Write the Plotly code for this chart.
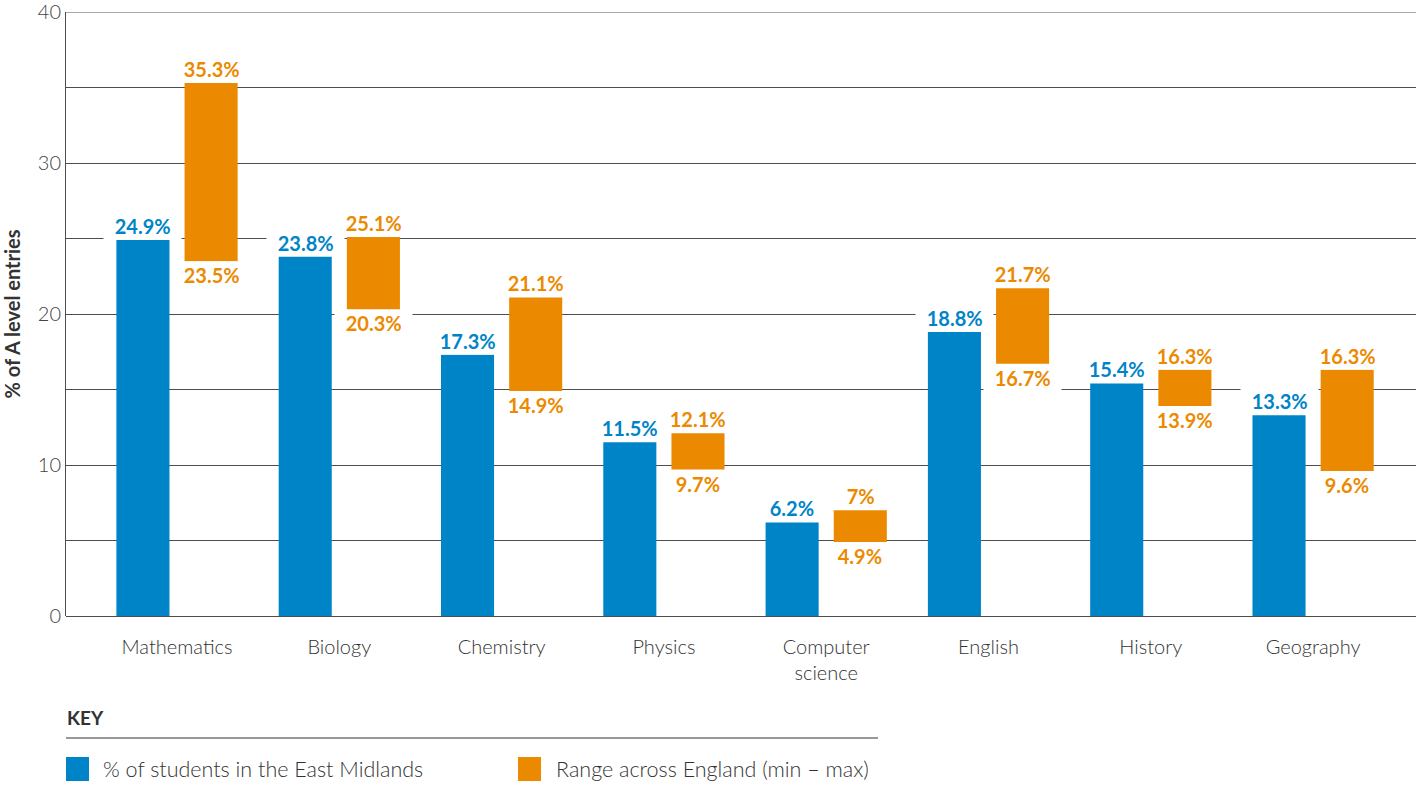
import plotly.graph_objects as go

subjects = ["Mathematics", "Biology", "Chemistry", "Physics", "Computer<br>science", "English", "History", "Geography"]
east_midlands = [24.9, 23.8, 17.3, 11.5, 6.2, 18.8, 15.4, 13.3]
england_min = [23.5, 20.3, 14.9, 9.7, 4.9, 16.7, 13.9, 9.6]
england_max = [35.3, 25.1, 21.1, 12.1, 7.0, 21.7, 16.3, 16.3]
y_ticks = [0, 10, 20, 30, 40]

BLUE = "#0084C8"
ORANGE = "#EB8A00"
FONT = "Lato"

def fmt(v):
    s = f"{v:.1f}"
    if s.endswith(".0"):
        s = s[:-2]
    return "&nbsp;&nbsp;" + s + "%&nbsp;&nbsp;"

idx = list(range(len(subjects)))
off = 0.21
w = 0.327

fig = go.Figure()
fig.add_trace(go.Bar(
    x=[i - off for i in idx], y=east_midlands, width=w,
    marker=dict(color=BLUE, line=dict(width=0)), showlegend=False, hoverinfo="skip"))
fig.add_trace(go.Bar(
    x=[i + off for i in idx], y=[mx - mn for mx, mn in zip(england_max, england_min)],
    base=england_min, width=w,
    marker=dict(color=ORANGE, line=dict(width=0)), showlegend=False, hoverinfo="skip"))

ann = []
lab_font = dict(family=FONT, size=20, weight=700)
for i in idx:
    ann.append(dict(x=i - off, y=east_midlands[i], xref="x", yref="y", text=fmt(east_midlands[i]),
                    showarrow=False, yanchor="bottom", xanchor="center", yshift=0,
                    font=dict(color=BLUE, **lab_font), bgcolor="white", borderpad=1))
    ann.append(dict(x=i + off, y=england_max[i], xref="x", yref="y", text=fmt(england_max[i]),
                    showarrow=False, yanchor="bottom", xanchor="center", yshift=0,
                    font=dict(color=ORANGE, **lab_font), bgcolor="white", borderpad=1))
    ann.append(dict(x=i + off, y=england_min[i], xref="x", yref="y", text=fmt(england_min[i]),
                    showarrow=False, yanchor="top", xanchor="center", yshift=0,
                    font=dict(color=ORANGE, **lab_font), bgcolor="white", borderpad=1))

# Key (positions given in screen pixels, converted to plot-area paper coordinates)
PL, PR, PT, PB = 66, 1416, 12, 616
def px(xp):
    return (xp - PL) / (PR - PL)
def py(yp):
    return (PB - yp) / (PB - PT)

ann.append(dict(x=px(65), y=py(717), xref="paper", yref="paper", text="KEY", showarrow=False,
                xanchor="left", yanchor="middle", font=dict(family=FONT, size=19, weight=700, color="#333333")))
ann.append(dict(x=px(101), y=py(769), xref="paper", yref="paper", text="% of students in the East Midlands",
                showarrow=False, xanchor="left", yanchor="middle",
                font=dict(family=FONT, size=21.5, weight=300, color="#333333")))
ann.append(dict(x=px(554), y=py(769), xref="paper", yref="paper", text="Range across England (min – max)",
                showarrow=False, xanchor="left", yanchor="middle",
                font=dict(family=FONT, size=21.5, weight=300, color="#333333")))

shapes = [
    dict(type="line", xref="paper", yref="y", x0=0, x1=1, y0=y_ticks[-1], y1=y_ticks[-1],
         line=dict(color="#555555", width=1), layer="below"),
    dict(type="line", xref="paper", yref="paper", x0=px(66), x1=px(878), y0=py(738), y1=py(738),
         line=dict(color="#333333", width=1.2)),
    dict(type="rect", xref="paper", yref="paper", x0=px(66), x1=px(89), y0=py(781), y1=py(757),
         fillcolor=BLUE, line=dict(width=0)),
    dict(type="rect", xref="paper", yref="paper", x0=px(518), x1=px(541), y0=py(781), y1=py(757),
         fillcolor=ORANGE, line=dict(width=0)),
]

fig.update_layout(
    width=1416, height=785,
    margin=dict(l=66, r=0, t=12, b=169),
    paper_bgcolor="white", plot_bgcolor="white",
    barmode="overlay",
    annotations=ann, shapes=shapes,
    font=dict(family=FONT, color="#333333"),
    xaxis=dict(range=[-0.684, 7.634], tickmode="array", tickvals=idx, ticktext=subjects,
               showgrid=False, zeroline=False, showline=False, ticks="",
               ticklabelstandoff=17,
               tickfont=dict(family=FONT, size=20, weight=300, color="#333333")),
    yaxis=dict(range=[0, 40], tickmode="array", tickvals=y_ticks, ticktext=[str(t) for t in y_ticks],
               showgrid=True, gridcolor="#4d4d4d", gridwidth=1,
               minor=dict(tickmode="array", tickvals=[5, 15, 25, 35], showgrid=True, gridcolor="#4d4d4d", gridwidth=1),
               zeroline=True, zerolinecolor="#4d4d4d", zerolinewidth=1,
               showline=True, linecolor="#4d4d4d", linewidth=1, ticks="",
               ticklabeloverflow="allow",
               tickfont=dict(family=FONT, size=20, weight=300, color="#444444"),
               title=dict(text="% of A level entries", standoff=13,
                          font=dict(family=FONT, size=20, weight=700, color="#333333"))),
)

fig.write_html("out.html", config={"displayModeBar": False},
               post_script="document.body.style.margin='0px';")
